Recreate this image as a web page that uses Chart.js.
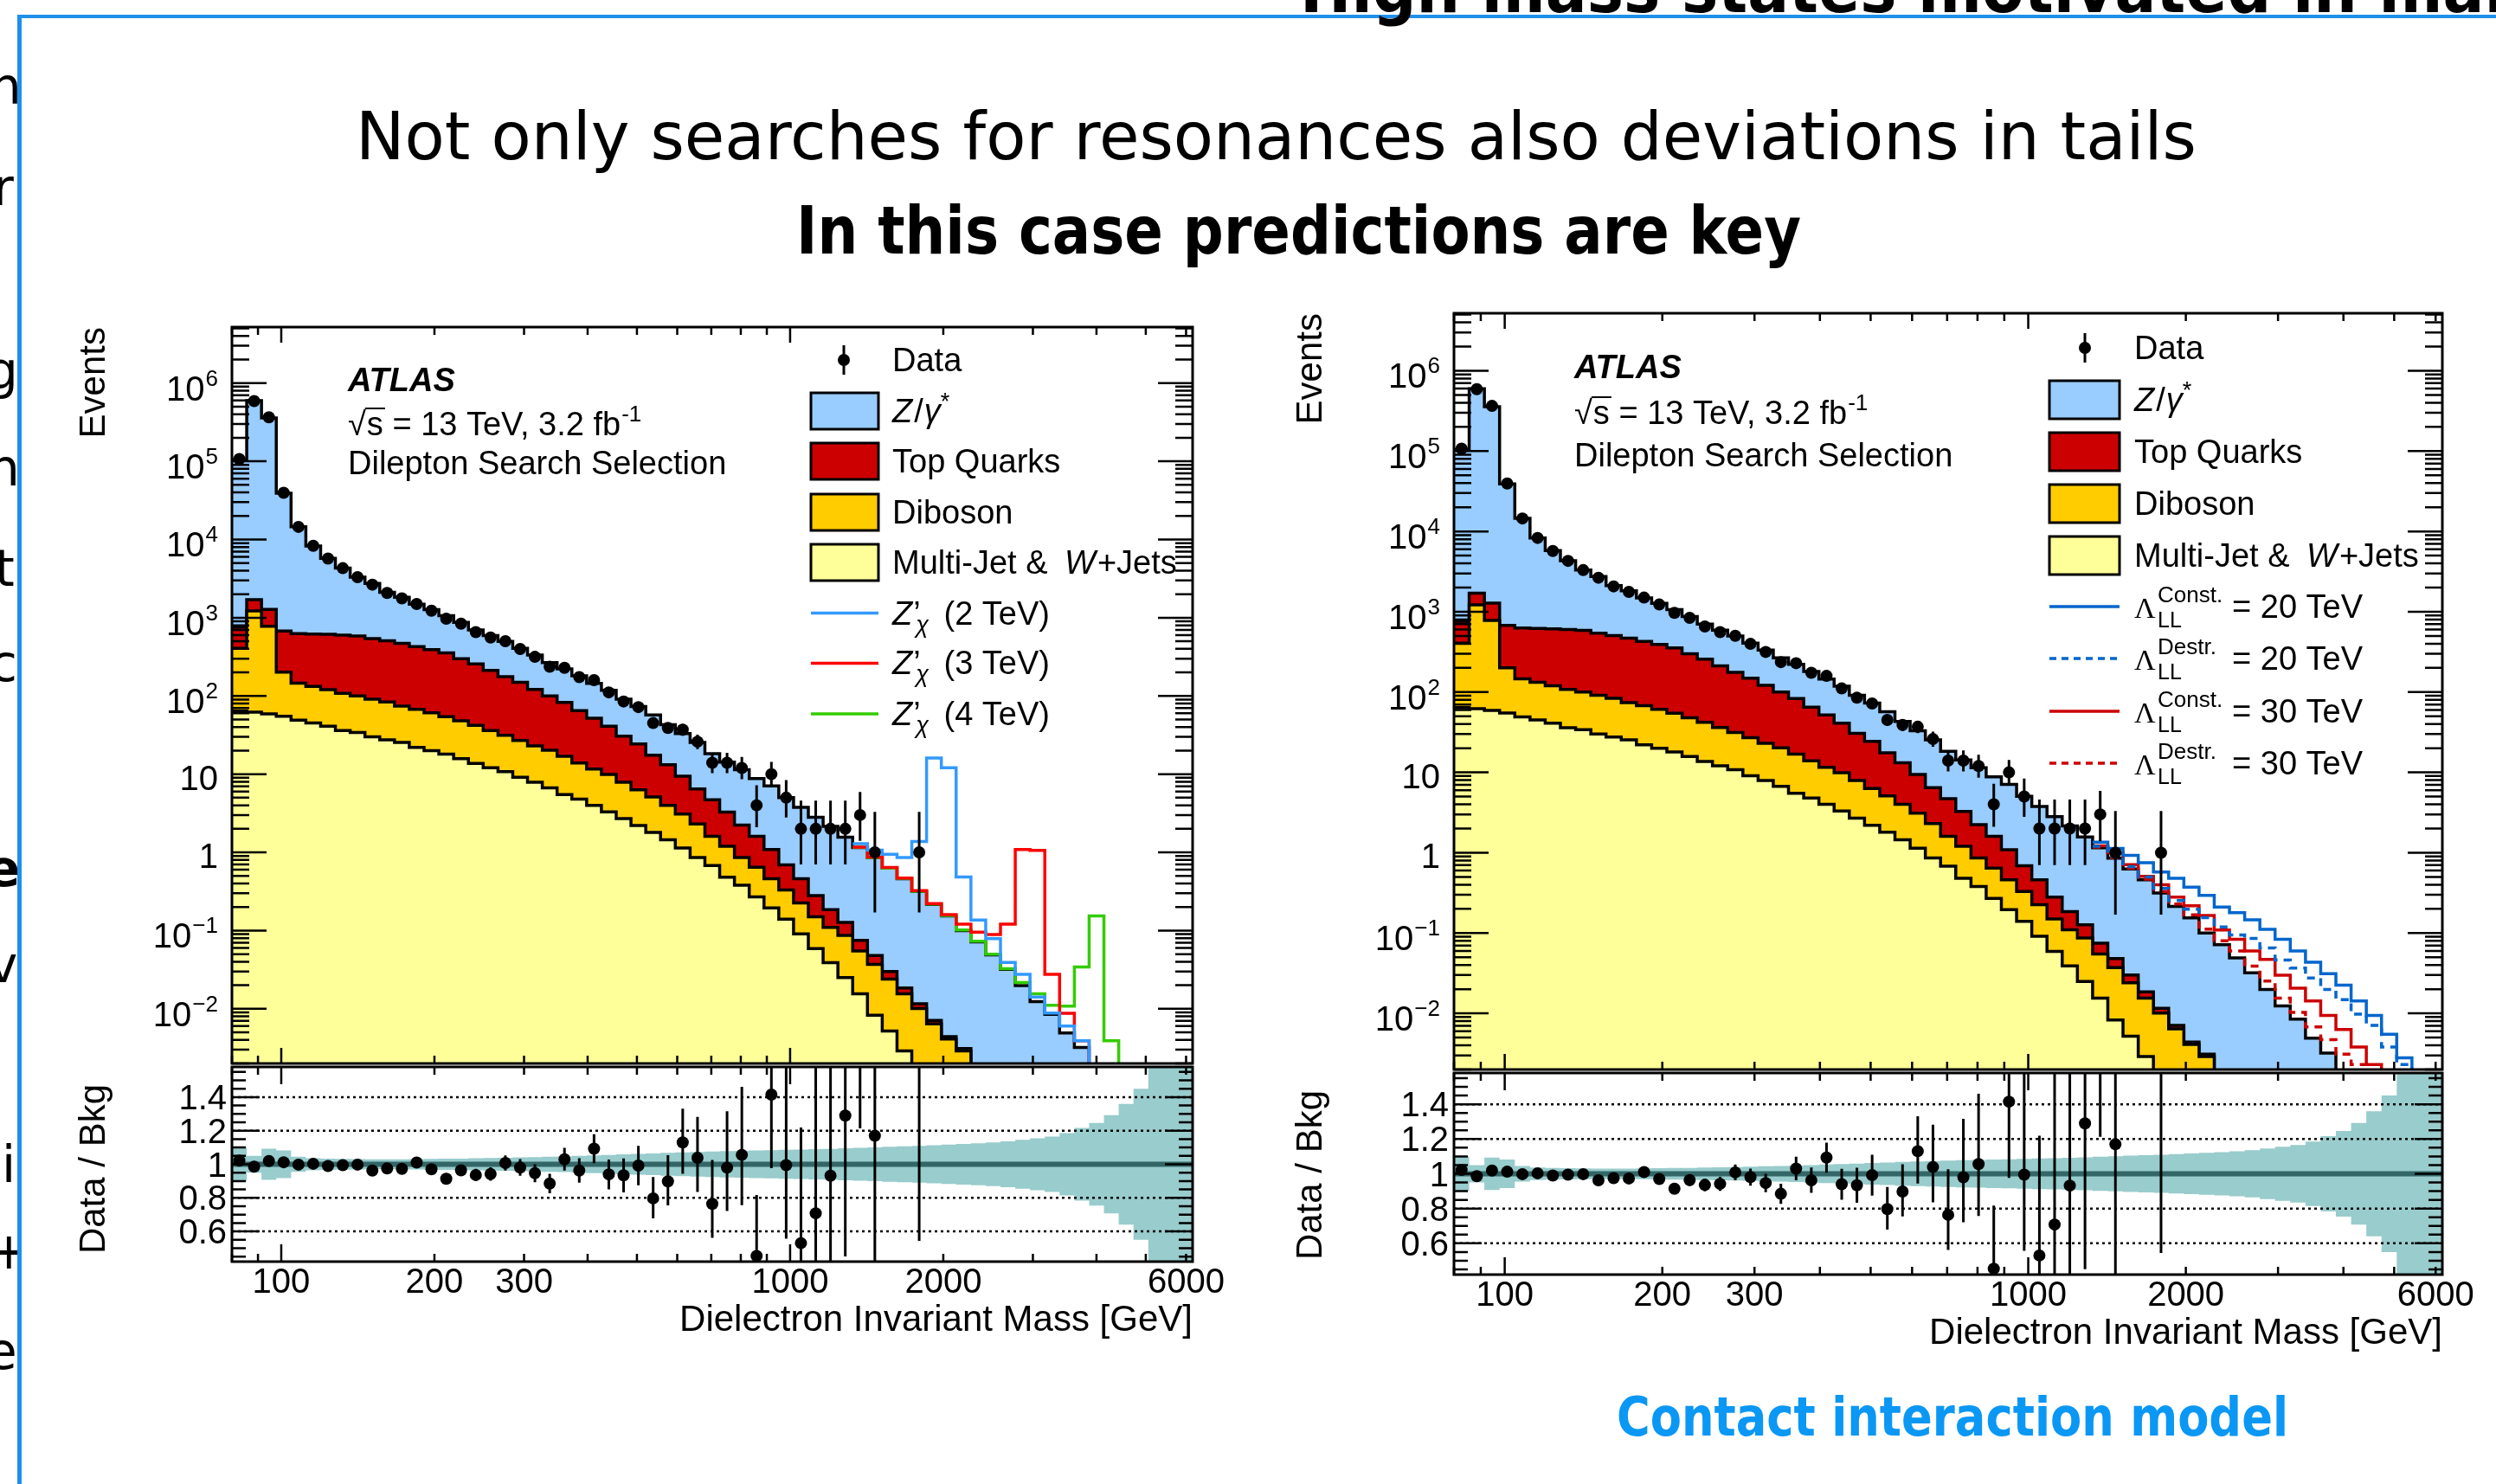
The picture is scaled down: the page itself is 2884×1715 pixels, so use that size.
<!DOCTYPE html>
<html lang="en">
<head>
<meta charset="utf-8">
<title>Dielectron invariant mass - ATLAS 13 TeV</title>
<script src="https://cdn.jsdelivr.net/npm/chart.js@4.4.1/dist/chart.umd.min.js"></script>
<style>
  html, body { margin: 0; padding: 0; background: #ffffff; }
  body { position: relative; width: 2884px; height: 1715px; overflow: hidden; font-family: "DejaVu Sans", sans-serif; color: #000; }
  canvas { position: absolute; }
  .txt { position: absolute; white-space: nowrap; line-height: 1; transform-origin: 0 0; }
  .rule { position: absolute; background: #1e90ea; }
  #edge { position: absolute; left: 0; top: 0; width: 20px; height: 1715px; overflow: hidden; }
  #edge span { position: absolute; font-size: 58px; line-height: 1; }
</style>
</head>
<body>
<div id="edge"></div>
<div class="rule" style="left:20px;top:17px;width:5px;height:1698px"></div>
<div class="rule" style="left:20px;top:17px;width:2864px;height:4px"></div>
<div class="txt" id="topCut" style="font-size:77px;font-weight:bold">High mass states motivated in many models</div>
<div class="txt" id="title" style="font-size:77px">Not only searches for resonances also deviations in tails</div>
<div class="txt" id="subtitle" style="font-size:77px;font-weight:bold">In this case predictions are key</div>
<div class="txt" id="ciNote" style="font-size:63px;font-weight:bold;color:#0b97f4">Contact interaction model</div>
<script>
// ---- binning (GeV), 65 bins of equal log width ----
const binEdges = [80, 85.53, 91.45, 97.77, 104.54, 111.77, 119.50, 127.76, 136.60, 146.05,
  156.15, 166.95, 178.49, 190.84, 204.04, 218.15, 233.24, 249.37, 266.62, 285.06,
  304.77, 325.85, 348.39, 372.49, 398.25, 425.80, 455.25, 486.73, 520.40, 556.39,
  594.87, 636.02, 680.01, 727.04, 777.33, 831.09, 888.57, 950.03, 1015.74, 1085.99,
  1161.10, 1241.41, 1327.27, 1419.07, 1517.22, 1622.16, 1734.36, 1854.32, 1982.57, 2119.69,
  2266.30, 2423.05, 2590.64, 2769.83, 2961.40, 3166.22, 3385.21, 3619.35, 3869.68, 4137.33,
  4423.49, 4729.44, 5056.55, 5406.29, 5780.21, 6180.00];

// ---- background components, events per bin ----
const multiJet = [64, 62, 59, 55, 49, 45, 41, 36, 34, 30,
  27.5, 25.5, 22, 20, 18, 15.8, 13.7, 12.1, 10.8, 9.1,
  7.9, 6.7, 5.5, 4.8, 4.0, 3.3, 2.7, 2.2, 1.8, 1.45,
  1.14, 0.86, 0.68, 0.48, 0.38, 0.27, 0.195, 0.14, 0.091, 0.059,
  0.039, 0.025, 0.0155, 0.0083, 0.0052, 0.0029, 0.0012, 0.0006, 0.0003, 0.0002,
  0.0001, 0.0001, 0.0001, 0.0001, 0.0001, 0.0001, 0.0001, 0.0001, 0.0001, 0.0001,
  0.0001, 0.0001, 0.0001, 0.0001, 0.0001];
const diboson = [343, 1160, 721, 146, 97, 87, 79, 72, 66, 61,
  56, 48.5, 45.6, 41, 36.4, 32.2, 28.3, 24, 20.5, 17.9,
  15.1, 13.5, 11.4, 9.1, 7.6, 6.6, 5.2, 4.1, 3.3, 2.55,
  1.96, 1.44, 0.92, 0.72, 0.48, 0.374, 0.266, 0.19, 0.134, 0.091,
  0.071, 0.062, 0.0395, 0.0287, 0.0188, 0.0126, 0.0089, 0.0058, 0.0038, 0.0027,
  0.0015, 0.0009, 0.0005, 0.0003, 0.0002, 0.0001, 0.0001, 0.0001, 0.0001, 0.0001,
  0.0001, 0.0001, 0.0001, 0.0001, 0.0001];
const topQuarks = [352, 484, 502, 474, 482, 487, 493, 491, 485, 451,
  423, 396, 360, 330, 301, 252, 215, 176, 145, 122,
  98, 80, 66, 51, 40.4, 31.1, 22.8, 18, 12.4, 9.2,
  6.35, 4.17, 3.1, 2.07, 1.37, 0.956, 0.63, 0.36, 0.235, 0.13,
  0.075, 0.04, 0.02, 0.011, 0.006, 0.003, 0.0015, 0.0007, 0.0003, 0.0002,
  0.0001, 0.0001, 0.0001, 0.0001, 0.0001, 0.0001, 0.0001, 0.0001, 0.0001, 0.0001,
  0.0001, 0.0001, 0.0001, 0.0001, 0.0001];
const drellYan = [103900, 596300, 356700, 38300, 13900, 7656, 5147, 3721, 2722, 2208,
  1613, 1350, 1062, 879, 705, 571, 443, 379, 322, 257,
  213, 167, 139, 116, 93, 77, 60.3, 48.7, 39.5, 29.8,
  23.5, 19, 13.6, 11, 9.17, 7.2, 5.98, 4.34, 3.31, 2.53,
  1.97, 1.44, 1.08, 0.808, 0.598, 0.443, 0.304, 0.208, 0.15, 0.097,
  0.0698, 0.0479, 0.0312, 0.0193, 0.012, 0.0082, 0.0046, 0.0029, 0.0015, 0.0009,
  0.0005, 0.0003, 0.0002, 0.0001, 0.0001];

// ---- data (bins after the last entry are empty) ----
const dataEvents = [107000, 590000, 365000, 39500, 14500, 8300, 5700, 4300, 3300, 2650,
  2070, 1770, 1500, 1230, 970, 840, 655, 558, 502, 398,
  316, 236, 229, 174, 159, 111, 85, 72, 45, 39,
  37, 26, 14, 14, 12, 4, 10, 5, 2, 2,
  2, 2, 3, 1, null, null, 1];
const dataErrUp = [327, 768, 604, 199, 120, 91, 75, 66, 57, 51,
  45, 42, 39, 35, 31, 29, 26, 24, 22.4, 20,
  17.8, 15.4, 15.1, 13.2, 12.6, 10.5, 9.2, 8.5, 7.2, 6.8,
  6.6, 6.1, 4.8, 4.8, 4.6, 3.2, 4.3, 3.4, 2.6, 2.6,
  2.6, 2.6, 2.9, 2.3, null, null, 2.3];
const dataErrDown = [327, 768, 604, 199, 120, 91, 75, 66, 57, 51,
  45, 42, 39, 35, 31, 29, 26, 24, 22.4, 20,
  17.8, 15.4, 15.1, 13.2, 12.6, 10.5, 9.2, 8.5, 6.7, 6.2,
  6.1, 5.1, 3.7, 3.7, 3.4, 1.9, 3.1, 2.2, 1.3, 1.3,
  1.3, 1.3, 1.6, 0.83, null, null, 0.83];
const dataRatio = [1.022, 0.986, 1.019, 1.012, 0.998, 1.003, 0.99, 0.995, 0.998, 0.963,
  0.975, 0.973, 1.01, 0.97, 0.914, 0.964, 0.936, 0.942, 1.008, 0.981,
  0.947, 0.885, 1.03, 0.963, 1.093, 0.94, 0.934, 0.992, 0.797, 0.898,
  1.13, 1.039, 0.764, 0.98, 1.056, 0.454, 1.415, 0.995, 0.53, 0.708,
  0.932, 1.29, 2.6, 1.17, null, null, 3.2];
// relative background uncertainty (half width of the band)
const systBand = [0.10, 0.05, 0.093, 0.082, 0.045, 0.036, 0.034, 0.032, 0.031, 0.03,
  0.03, 0.03, 0.031, 0.032, 0.033, 0.034, 0.036, 0.037, 0.039, 0.041,
  0.043, 0.045, 0.047, 0.05, 0.053, 0.056, 0.059, 0.062, 0.065, 0.068,
  0.071, 0.074, 0.076, 0.078, 0.08, 0.082, 0.084, 0.086, 0.088, 0.09,
  0.092, 0.095, 0.098, 0.101, 0.104, 0.107, 0.11, 0.113, 0.117, 0.121,
  0.125, 0.13, 0.136, 0.146, 0.155, 0.165, 0.185, 0.217, 0.246, 0.293,
  0.36, 0.45, 0.7, 0.8, 0.9];

// ---- signal + background curves, from bin 42 on ----
const tailStartBin = 42;
const zPrime2TeV = [1.29, 1.07, 0.945, 0.859, 1.38, 16.1, 12.1, 0.484, 0.136, 0.0787, 0.0392, 0.0275, 0.0141, 0.0088, 0.006, 0.0039, 0.0015, 0.0009, 0.0005, 0.0003, 0.0002, 0.0001, 0.0001];
const zPrime3TeV = [1.17, 0.87, 0.64, 0.47, 0.325, 0.222, 0.16, 0.121, 0.0953, 0.0891, 0.121, 1.09, 1.06, 0.0275, 0.00875, 0.0039, 0.0015, 0.0009, 0.0005, 0.0003, 0.0002, 0.0001, 0.0001];
const zPrime4TeV = [1.16, 0.86, 0.63, 0.465, 0.318, 0.218, 0.156, 0.102, 0.073, 0.05, 0.0325, 0.0217, 0.0155, 0.0111, 0.0108, 0.0343, 0.154, 0.0039, 0.0005, 0.0003, 0.0002, 0.0001, 0.0001];
const ciConst20 = [1.35, 1.13, 0.929, 0.75, 0.576, 0.481, 0.373, 0.294, 0.211, 0.179, 0.146, 0.111, 0.0834, 0.06, 0.0432, 0.0311, 0.0224, 0.0143, 0.0094, 0.0055, 0.0028, 0.0008, 0.0005];
const ciDestr20 = [1.2, 0.9, 0.67, 0.5, 0.36, 0.253, 0.198, 0.155, 0.119, 0.0944, 0.0855, 0.0652, 0.0462, 0.0367, 0.0275, 0.0198, 0.0148, 0.0098, 0.0071, 0.0038, 0.0023, 0.0008, 0.0005];
const ciConst30 = [1.22, 1.0, 0.708, 0.509, 0.398, 0.28, 0.218, 0.165, 0.109, 0.0834, 0.06, 0.047, 0.0299, 0.0206, 0.0143, 0.0094, 0.0063, 0.0038, 0.0023, 0.0008, 0.0005, 0.0003, 0.0002];
const ciDestr30 = [1.17, 0.87, 0.64, 0.47, 0.33, 0.23, 0.168, 0.112, 0.08, 0.06, 0.0388, 0.0253, 0.0155, 0.0103, 0.0068, 0.0047, 0.0031, 0.0023, 0.0008, 0.0005, 0.0003, 0.0002, 0.0001];

// ---- axis labels ----
const massTickLabels = [100, 200, 300, 1000, 2000, 6000];
const ratioTickLabels = [0.6, 0.8, 1, 1.2, 1.4];
const eventTickPowers = [-2, -1, 0, 1, 2, 3, 4, 5, 6];

const colours = { dy: '#99ccff', top: '#cc0000', diboson: '#ffcc00', multijet: '#ffff99',
  zp2: '#3399ff', zp3: '#ff0000', zp4: '#33cc00', ci20: '#0066cc', ci30: '#cc0000',
  band: '#99cccc', nominal: '#336666' };

const SANS = '"Liberation Sans", Arial, Helvetica, sans-serif';
const SERIF = '"Liberation Serif", "Times New Roman", serif';
const font = (size, style) => (style ? style + ' ' : '') + size + 'px ' + SANS;

// ---- helpers ----
const stepPoints = (values, first = 0) => {
  const pts = values.map((v, i) => ({ x: binEdges[first + i], y: v }));
  pts.push({ x: binEdges[first + values.length], y: values[values.length - 1] });
  return pts;
};
const binCentre = i => Math.sqrt(binEdges[i] * binEdges[i + 1]);

// cumulative tops of the stack, bottom layer first
const stackTops = [];
[multiJet, diboson, topQuarks, drellYan].reduce((below, layer) => {
  const top = layer.map((v, i) => v + below[i]);
  stackTops.push(top);
  return top;
}, multiJet.map(() => 0));
const stackColours = [colours.multijet, colours.diboson, colours.top, colours.dy];

const dataPoints = [], dataBars = [], ratioPoints = [], ratioBars = [];
dataEvents.forEach((n, i) => {
  if (n == null) return;
  const x = binCentre(i);
  dataPoints.push({ x, y: n });
  dataBars.push({ x, lo: n - dataErrDown[i], hi: n + dataErrUp[i] });
  const r = dataRatio[i];
  ratioPoints.push({ x, y: r });
  ratioBars.push({ x, lo: r * (1 - dataErrDown[i] / n), hi: r * (1 + dataErrUp[i] / n) });
});

function logTickValues(min, max) {
  const major = [], minor = [];
  for (let e = Math.floor(Math.log10(min)); e <= Math.ceil(Math.log10(max)); e++) {
    for (let m = 1; m < 10; m++) {
      const v = m * Math.pow(10, e);
      if (v < min * 0.9999 || v > max * 1.0001) continue;
      (m === 1 ? major : minor).push(v);
    }
  }
  return { major, minor };
}
const X_MIN = 80, X_MAX = 6180, Y_MIN = 2e-3, Y_MAX = 5.2e6, R_MIN = 0.42, R_MAX = 1.58;
const massTicks = logTickValues(X_MIN, X_MAX);
const eventTicks = logTickValues(Y_MIN, Y_MAX);
const ratioMinor = [];
for (let k = 9; k <= 31; k++) {
  const v = Math.round(k * 5) / 100;
  if (!ratioTickLabels.includes(v)) ratioMinor.push(v);
}

// ---- drawing pieces (ROOT style) ----
function drawFrame(ctx, a, xs, ys, t) {
  ctx.save();
  ctx.strokeStyle = '#000';
  ctx.lineWidth = 2.5;
  ctx.setLineDash([]);
  ctx.beginPath();
  const vTick = (v, len) => {
    const p = xs.getPixelForValue(v);
    ctx.moveTo(p, a.bottom); ctx.lineTo(p, a.bottom - len);
    ctx.moveTo(p, a.top); ctx.lineTo(p, a.top + len);
  };
  const hTick = (v, len) => {
    const p = ys.getPixelForValue(v);
    ctx.moveTo(a.left, p); ctx.lineTo(a.left + len, p);
    ctx.moveTo(a.right, p); ctx.lineTo(a.right - len, p);
  };
  t.xMajor.forEach(v => vTick(v, t.xMajLen));
  t.xMinor.forEach(v => vTick(v, t.xMinLen));
  t.yMajor.forEach(v => hTick(v, t.yMajLen));
  t.yMinor.forEach(v => hTick(v, t.yMinLen));
  ctx.stroke();
  ctx.lineWidth = 3;
  ctx.strokeRect(a.left, a.top, a.right - a.left, a.bottom - a.top);
  ctx.restore();
}

function drawErrorBars(ctx, a, xs, ys, bars) {
  ctx.save();
  ctx.beginPath();
  ctx.rect(a.left, a.top, a.right - a.left, a.bottom - a.top);
  ctx.clip();
  ctx.strokeStyle = '#000';
  ctx.lineWidth = 3;
  ctx.beginPath();
  bars.forEach(b => {
    const px = xs.getPixelForValue(b.x);
    ctx.moveTo(px, ys.getPixelForValue(b.lo));
    ctx.lineTo(px, ys.getPixelForValue(b.hi));
  });
  ctx.stroke();
  ctx.restore();
}

function drawYTitle(ctx, text, x, yEnd) {
  ctx.save();
  ctx.translate(x, yEnd);
  ctx.rotate(-Math.PI / 2);
  ctx.font = font(42);
  ctx.fillStyle = '#000';
  ctx.textAlign = 'right';
  ctx.textBaseline = 'alphabetic';
  ctx.fillText(text, 0, 0);
  ctx.restore();
}

function drawEventLabels(ctx, a, ys) {
  ctx.save();
  ctx.fillStyle = '#000';
  ctx.textAlign = 'right';
  const xr = a.left - 16;
  eventTickPowers.forEach(p => {
    const y = ys.getPixelForValue(Math.pow(10, p));
    if (p === 0 || p === 1) {
      ctx.font = font(40);
      ctx.fillText(p === 0 ? '1' : '10', xr, y + 18);
      return;
    }
    const sup = p < 0 ? '\u2212' + (-p) : String(p);
    ctx.font = font(26);
    const sw = ctx.measureText(sup).width;
    ctx.fillText(sup, xr, y + 3);
    ctx.font = font(40);
    ctx.fillText('10', xr - sw - 1, y + 20);
  });
  ctx.restore();
}

function drawAtlasLabel(ctx, x, y1, y2, y3) {
  ctx.save();
  ctx.fillStyle = '#000';
  ctx.strokeStyle = '#000';
  ctx.textAlign = 'left';
  ctx.font = font(38, 'italic bold');
  ctx.fillText('ATLAS', x, y1);
  ctx.font = font(38);
  ctx.fillText('\u221A', x, y2);
  let cx = x + ctx.measureText('\u221A').width;
  ctx.fillText('s', cx + 1, y2);
  const sw = ctx.measureText('s').width;
  ctx.lineWidth = 2;
  ctx.beginPath();
  ctx.moveTo(cx - 1, y2 - 31);
  ctx.lineTo(cx + sw + 3, y2 - 31);
  ctx.stroke();
  cx += sw + 1;
  const rest = ' = 13 TeV, 3.2 fb';
  ctx.fillText(rest, cx, y2);
  cx += ctx.measureText(rest).width;
  ctx.font = font(26);
  ctx.fillText('-1', cx + 1, y2 - 16);
  ctx.font = font(38);
  ctx.fillText('Dilepton Search Selection', x, y3);
  ctx.restore();
}

function drawLegendText(ctx, key, x, yc) {
  const yb = yc + 13;
  const R = font(38), I = font(38, 'italic');
  ctx.fillStyle = '#000';
  ctx.textAlign = 'left';
  const seq = parts => {
    let cx = x;
    parts.forEach(p => {
      ctx.font = p.f;
      cx += p.dx || 0;
      ctx.fillText(p.t, cx, yb + (p.dy || 0));
      if (p.adv !== false) cx += ctx.measureText(p.t).width;
    });
  };
  const zPrime = m => seq([{ t: 'Z', f: I }, { t: '\u2019', f: R, dx: 1, adv: false },
    { t: '\u03C7', f: font(27, 'italic'), dx: 3, dy: 9 }, { t: ' (' + m + ')', f: R, dx: 7 }]);
  const lambda = (sup, val) => {
    ctx.font = '34px ' + SERIF;
    ctx.fillText('\u039B', x, yb);
    ctx.font = font(26);
    ctx.fillText(sup, x + 27, yc - 5);
    ctx.font = font(25);
    ctx.fillText('LL', x + 27, yc + 24);
    ctx.font = R;
    ctx.fillText('= ' + val, x + 113, yb);
  };
  switch (key) {
    case 'data': seq([{ t: 'Data', f: R }]); break;
    case 'zgamma': seq([{ t: 'Z', f: I }, { t: '/', f: R, dx: 2 }, { t: '\u03B3', f: I, dx: 1 }, { t: '*', f: font(27), dy: -15 }]); break;
    case 'top': seq([{ t: 'Top Quarks', f: R }]); break;
    case 'diboson': seq([{ t: 'Diboson', f: R }]); break;
    case 'multijet': seq([{ t: 'Multi-Jet & ', f: R }, { t: 'W', f: I, dx: 9 }, { t: '+Jets', f: R, dx: 2 }]); break;
    case 'zp2': zPrime('2 TeV'); break;
    case 'zp3': zPrime('3 TeV'); break;
    case 'zp4': zPrime('4 TeV'); break;
    case 'c20': lambda('Const.', '20 TeV'); break;
    case 'd20': lambda('Destr.', '20 TeV'); break;
    case 'c30': lambda('Const.', '30 TeV'); break;
    case 'd30': lambda('Destr.', '30 TeV'); break;
  }
}

function drawLegend(ctx, a, lg) {
  ctx.save();
  lg.rows.forEach(r => {
    const yc = a.top + r.dy;
    const bx = a.left + lg.boxDx;
    if (r.kind === 'data') {
      const mx = a.left + lg.markerDx;
      ctx.strokeStyle = '#000'; ctx.lineWidth = 3; ctx.setLineDash([]);
      ctx.beginPath(); ctx.moveTo(mx, yc - 17); ctx.lineTo(mx, yc + 17); ctx.stroke();
      ctx.fillStyle = '#000';
      ctx.beginPath(); ctx.arc(mx, yc, 7, 0, Math.PI * 2); ctx.fill();
    } else if (r.kind === 'box') {
      ctx.fillStyle = r.color;
      ctx.fillRect(bx, yc - lg.boxH / 2, lg.boxW, lg.boxH);
      ctx.strokeStyle = '#000'; ctx.lineWidth = 3; ctx.setLineDash([]);
      ctx.strokeRect(bx, yc - lg.boxH / 2, lg.boxW, lg.boxH);
    } else {
      ctx.strokeStyle = r.color; ctx.lineWidth = 3.5; ctx.setLineDash(r.dash || []);
      ctx.beginPath(); ctx.moveTo(bx, yc); ctx.lineTo(bx + lg.boxW, yc); ctx.stroke();
      ctx.setLineDash([]);
    }
    drawLegendText(ctx, r.key, a.left + lg.textDx, yc);
  });
  ctx.restore();
}

// ---- chart plugins ----
function mainDecor(cfg) {
  return {
    id: 'mainDecor',
    afterDatasetsDraw(chart) {
      const { ctx, chartArea: a, scales: { x, y } } = chart;
      drawErrorBars(ctx, a, x, y, dataBars);
    },
    afterDraw(chart) {
      const { ctx, chartArea: a, scales: { x, y } } = chart;
      drawFrame(ctx, a, x, y, { xMajor: massTicks.major, xMinor: massTicks.minor, xMajLen: 18, xMinLen: 9,
        yMajor: eventTicks.major, yMinor: eventTicks.minor, yMajLen: 40, yMinLen: 20 });
      drawEventLabels(ctx, a, y);
      drawYTitle(ctx, 'Events', a.left + cfg.yTitleDx, a.top);
      drawAtlasLabel(ctx, a.left + cfg.atlas.dx, a.top + cfg.atlas.dy[0], a.top + cfg.atlas.dy[1], a.top + cfg.atlas.dy[2]);
      drawLegend(ctx, a, cfg.legend);
    }
  };
}

function ratioDecor(cfg) {
  return {
    id: 'ratioDecor',
    afterDatasetsDraw(chart) {
      const { ctx, chartArea: a, scales: { x, y } } = chart;
      ctx.save();
      ctx.strokeStyle = '#000';
      ctx.lineWidth = 2.5;
      ctx.setLineDash([3, 4]);
      ctx.beginPath();
      ratioTickLabels.filter(v => v !== 1).forEach(v => {
        const p = y.getPixelForValue(v);
        ctx.moveTo(a.left, p); ctx.lineTo(a.right, p);
      });
      ctx.stroke();
      ctx.restore();
      drawErrorBars(ctx, a, x, y, ratioBars);
    },
    afterDraw(chart) {
      const { ctx, chartArea: a, scales: { x, y } } = chart;
      drawFrame(ctx, a, x, y, { xMajor: massTicks.major, xMinor: massTicks.minor, xMajLen: 20, xMinLen: 9,
        yMajor: ratioTickLabels, yMinor: ratioMinor, yMajLen: 32, yMinLen: 16 });
      ctx.save();
      ctx.fillStyle = '#000';
      ctx.font = font(40);
      ctx.textAlign = 'right';
      ratioTickLabels.forEach(v => ctx.fillText(String(v), a.left - 6, y.getPixelForValue(v) + 14));
      ctx.textAlign = 'center';
      massTickLabels.forEach(v => ctx.fillText(String(v), x.getPixelForValue(v), a.bottom + 36));
      ctx.font = font(42);
      ctx.textAlign = 'right';
      ctx.fillText('Dielectron Invariant Mass [GeV]', a.right, a.bottom + 80);
      ctx.restore();
      drawYTitle(ctx, 'Data / Bkg', a.left + cfg.yTitleDx, a.top + 20);
    }
  };
}

// ---- chart construction ----
function placeCanvas(id, box) {
  const c = document.createElement('canvas');
  c.id = id;
  c.width = box.w; c.height = box.h;
  c.style.left = box.x + 'px'; c.style.top = box.y + 'px';
  c.style.width = box.w + 'px'; c.style.height = box.h + 'px';
  document.body.appendChild(c);
  return c;
}
const padFor = (box, f) => ({ left: f.left - box.x, top: f.top - box.y, right: box.x + box.w - f.right, bottom: box.y + box.h - f.bottom });

function baseOptions(box, frame, yScale) {
  return {
    responsive: false, animation: false, devicePixelRatio: 1, events: [],
    layout: { padding: padFor(box, frame) },
    scales: {
      x: { type: 'logarithmic', min: X_MIN, max: X_MAX, bounds: 'data', display: false },
      y: Object.assign({ bounds: 'data', display: false }, yScale)
    },
    plugins: { legend: { display: false }, tooltip: { enabled: false } }
  };
}

function buildMain(id, box, frame, cfg) {
  const datasets = [
    { data: dataPoints, showLine: false, pointRadius: 7, pointBackgroundColor: '#000', pointBorderWidth: 0, order: 0, clip: 0 },
    ...cfg.signals.map(s => ({ data: stepPoints(s.values, tailStartBin), stepped: true, borderColor: s.color, borderWidth: 3.5,
      borderDash: s.dash || [], pointRadius: 0, fill: false, order: 1, clip: 0 })),
    ...stackTops.map((top, k) => ({ data: stepPoints(top), stepped: true, borderColor: '#000', borderWidth: 3.5,
      backgroundColor: stackColours[k], fill: 'start', pointRadius: 0, order: 2, clip: 0 }))
  ];
  return new Chart(placeCanvas(id, box), {
    type: 'line',
    data: { datasets },
    options: baseOptions(box, frame, { type: 'logarithmic', min: Y_MIN, max: Y_MAX }),
    plugins: [mainDecor(cfg)]
  });
}

function buildRatio(id, box, frame, cfg) {
  const clear = 'rgba(0,0,0,0)';
  const datasets = [
    { data: ratioPoints, showLine: false, pointRadius: 7, pointBackgroundColor: '#000', pointBorderWidth: 0, order: 0, clip: 0 },
    { data: [{ x: X_MIN, y: 1 }, { x: X_MAX, y: 1 }], borderColor: colours.nominal, borderWidth: 6, pointRadius: 0, fill: false, order: 1, clip: 0 },
    { data: stepPoints(systBand.map(e => 1 + e)), stepped: true, borderColor: clear, borderWidth: 0, pointRadius: 0, fill: false, order: 2, clip: 0 },
    { data: stepPoints(systBand.map(e => 1 - e)), stepped: true, borderColor: clear, borderWidth: 0, pointRadius: 0,
      fill: '-1', backgroundColor: colours.band, order: 2, clip: 0 }
  ];
  return new Chart(placeCanvas(id, box), {
    type: 'line',
    data: { datasets },
    options: baseOptions(box, frame, { type: 'linear', min: R_MIN, max: R_MAX }),
    plugins: [ratioDecor(cfg)]
  });
}

// left: Z' resonance search
const leftCfg = {
  signals: [
    { values: zPrime2TeV, color: colours.zp2 },
    { values: zPrime3TeV, color: colours.zp3 },
    { values: zPrime4TeV, color: colours.zp4 }
  ],
  atlas: { dx: 134, dy: [74, 125, 170] },
  yTitleDx: -147,
  legend: { markerDx: 707, boxDx: 669, boxW: 78, boxH: 42, textDx: 763, rows: [
    { dy: 38, kind: 'data', key: 'data' },
    { dy: 97, kind: 'box', color: colours.dy, key: 'zgamma' },
    { dy: 155, kind: 'box', color: colours.top, key: 'top' },
    { dy: 214, kind: 'box', color: colours.diboson, key: 'diboson' },
    { dy: 272, kind: 'box', color: colours.multijet, key: 'multijet' },
    { dy: 330.5, kind: 'line', color: colours.zp2, key: 'zp2' },
    { dy: 388.4, kind: 'line', color: colours.zp3, key: 'zp3' },
    { dy: 447, kind: 'line', color: colours.zp4, key: 'zp4' }
  ] }
};

// right: contact interaction
const rightCfg = {
  signals: [
    { values: ciConst20, color: colours.ci20 },
    { values: ciDestr20, color: colours.ci20, dash: [9, 7] },
    { values: ciConst30, color: colours.ci30 },
    { values: ciDestr30, color: colours.ci30, dash: [9, 7] }
  ],
  atlas: { dx: 139, dy: [75, 128, 177] },
  yTitleDx: -153,
  legend: { markerDx: 729, boxDx: 688, boxW: 81, boxH: 44, textDx: 786, rows: [
    { dy: 40, kind: 'data', key: 'data' },
    { dy: 100, kind: 'box', color: colours.dy, key: 'zgamma' },
    { dy: 160, kind: 'box', color: colours.top, key: 'top' },
    { dy: 220, kind: 'box', color: colours.diboson, key: 'diboson' },
    { dy: 280, kind: 'box', color: colours.multijet, key: 'multijet' },
    { dy: 339, kind: 'line', color: colours.ci20, key: 'c20' },
    { dy: 399, kind: 'line', color: colours.ci20, dash: [8, 6], key: 'd20' },
    { dy: 460, kind: 'line', color: colours.ci30, key: 'c30' },
    { dy: 520, kind: 'line', color: colours.ci30, dash: [8, 6], key: 'd30' }
  ] }
};

buildMain('mainLeft', { x: 60, y: 330, w: 1370, h: 906 }, { left: 268, top: 378, right: 1378, bottom: 1231 }, leftCfg);
buildRatio('ratioLeft', { x: 60, y: 1226, w: 1370, h: 374 }, { left: 268, top: 1231, right: 1378, bottom: 1458 }, leftCfg);
buildMain('mainRight', { x: 1470, y: 320, w: 1410, h: 923 }, { left: 1680, top: 362, right: 2822, bottom: 1238 }, rightCfg);
buildRatio('ratioRight', { x: 1470, y: 1233, w: 1410, h: 367 }, { left: 1680, top: 1238, right: 2822, bottom: 1473 }, rightCfg);

// ---- slide text ----
function placeText(id, left, baseline, width, scale) {
  const el = document.getElementById(id);
  const size = parseFloat(getComputedStyle(el).fontSize);
  el.style.left = left + 'px';
  el.style.top = (baseline - 0.846 * size) + 'px';
  const k = width ? width / el.getBoundingClientRect().width : scale;
  if (k) el.style.transform = 'scaleX(' + k + ')';
  return k;
}
placeText('title', 411, 184, 2127);
const boldScale = placeText('subtitle', 920, 293, 1161);
placeText('topCut', 1502, 14, null, boldScale * 1.08);
placeText('ciNote', 1868, 1659, 776);

// fragments of the neighbouring slide column, cut by the frame
const edge = document.getElementById('edge');
[['h', 120, -12], ['r', 237, -8], ['g', 449, -16], ['n', 561, -14], ['t', 677, -6], ['c', 787, -12],
 ['e', 1024, -16, true], ['v', 1135, -14], ['i', 1366, 2], ['+', 1466, -14], ['e', 1582, -16]].forEach(([ch, base, dx, bold]) => {
  const s = document.createElement('span');
  s.textContent = ch;
  s.style.left = dx + 'px';
  s.style.top = (base - 0.846 * 58) + 'px';
  if (bold) s.style.fontWeight = 'bold';
  edge.appendChild(s);
});
</script>
</body>
</html>
